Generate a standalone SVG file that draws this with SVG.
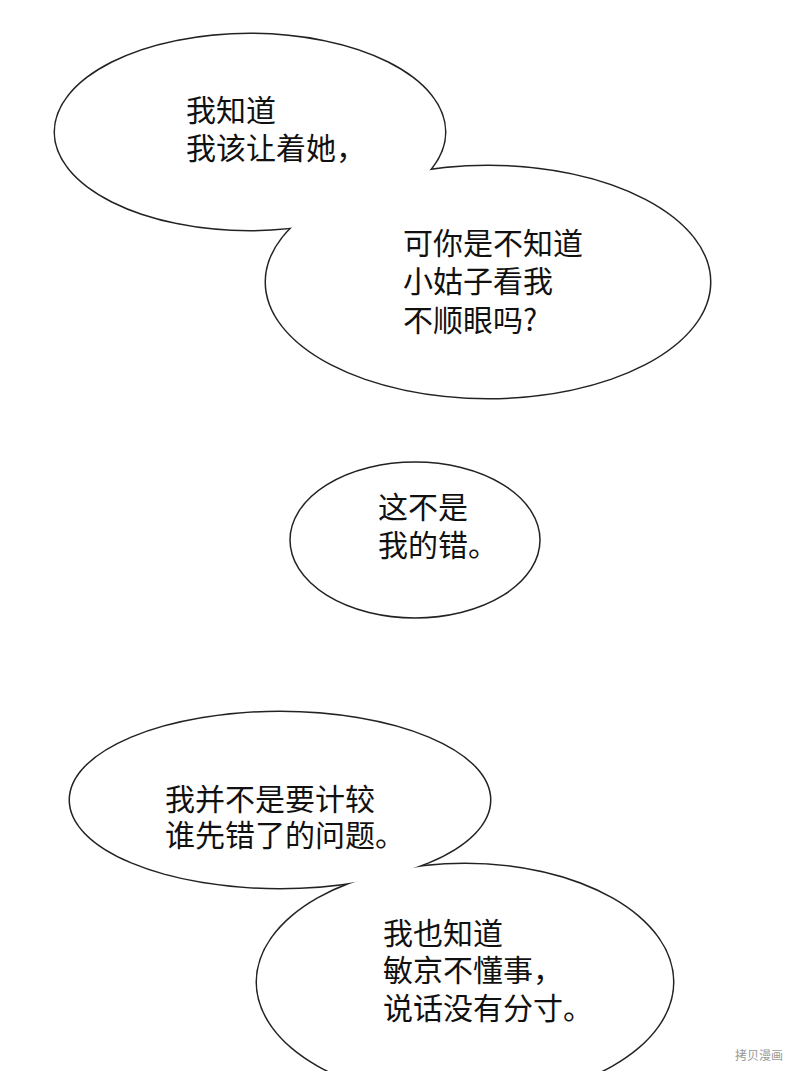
<svg xmlns="http://www.w3.org/2000/svg" width="800" height="1071" viewBox="0 0 800 1071">
<style>
.s{fill:none;stroke:#222;stroke-width:3}
.f{fill:#fff;stroke:none}
.t{font-family:"Noto Sans CJK SC",sans-serif;font-size:30px;fill:#111}
</style>
<rect width="800" height="1071" fill="#fff"/>
<g id="connectors"></g>
<g id="bubble-1-2">
<ellipse class="s" cx="250" cy="132" rx="195" ry="98"/>
<ellipse class="s" cx="488" cy="282" rx="222" ry="116"/>
<ellipse class="f" cx="250" cy="132" rx="195" ry="98"/>
<ellipse class="f" cx="488" cy="282" rx="222" ry="116"/>
<text class="t" x="186" y="121">我知道</text>
<text class="t" x="186" y="159">我该让着她，</text>
<text class="t" x="403" y="254">可你是不知道</text>
<text class="t" x="403" y="292">小姑子看我</text>
<text class="t" x="403" y="331">不顺眼吗?</text>
</g>
<g id="bubble-3">
<ellipse cx="415" cy="540" rx="125" ry="78" fill="#fff" stroke="#222" stroke-width="1.5"/>
<text class="t" x="378" y="518">这不是</text>
<text class="t" x="378" y="556">我的错。</text>
</g>
<g id="bubble-4-5">
<ellipse class="s" cx="280" cy="800" rx="210" ry="88"/>
<ellipse class="s" cx="465" cy="982" rx="208" ry="118"/>
<ellipse class="f" cx="280" cy="800" rx="210" ry="88"/>
<ellipse class="f" cx="465" cy="982" rx="208" ry="118"/>
<text class="t" x="165" y="810">我并不是要计较</text>
<text class="t" x="165" y="846">谁先错了的问题。</text>
<text class="t" x="383" y="944">我也知道</text>
<text class="t" x="383" y="981">敏京不懂事，</text>
<text class="t" x="383" y="1019">说话没有分寸。</text>
</g>
<text x="735" y="1060" font-family="Noto Sans CJK SC,sans-serif" font-size="12" fill="#999">拷贝漫画</text>
</svg>
